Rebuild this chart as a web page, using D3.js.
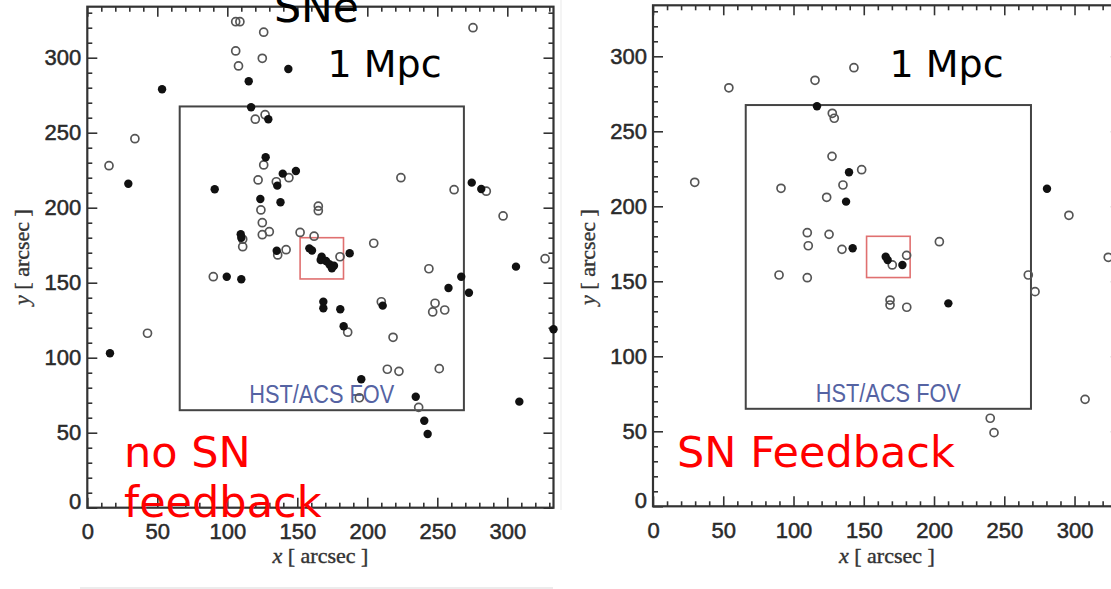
<!DOCTYPE html>
<html>
<head>
<meta charset="utf-8">
<script src="https://cdn.jsdelivr.net/npm/d3@7"></script>
<style>
  body { margin: 0; background: #fff; }
  svg { display: block; }
</style>
</head>
<body>
<div id="chart"></div>
<script>
// Galaxy positions [x, y] in arcsec
const noFbOpen = [
  [106, 324], [109, 324], [126, 317], [106, 304.5], [125, 299.6], [108, 294.5],
  [120, 259], [127, 262], [34, 246], [15.5, 228], [126, 228.5], [122, 218.5],
  [135, 217.3], [144, 220], [124, 198.5], [125, 190], [125, 182], [130, 184],
  [111, 179], [111, 174], [136, 168.5], [142, 172], [152, 183.5], [162, 181],
  [165, 201], [165, 198], [180.5, 167.3], [275.5, 320], [224, 220], [262, 212],
  [285, 211], [297, 194.5], [204.6, 176.3], [327, 166], [90, 154], [43, 116.3],
  [244, 159.3], [186, 117], [210, 137.3], [218.4, 113.6], [248.4, 136.3],
  [246.7, 130.5], [255.3, 131.8], [214.3, 92.3], [222.6, 90.9], [251.4, 92.7],
  [194.3, 73.3], [236.7, 66.9]
];
const noFbFilled = [
  [143.6, 292.5], [115.3, 284.3], [53.4, 279], [117, 267], [129.3, 259], [29.3, 216],
  [91, 212.3], [127.4, 233.6], [139.6, 222.7], [135.7, 214.7], [149, 224.5],
  [123.6, 205.8], [138, 203.6], [109.6, 182.3], [110, 180], [135.3, 171.3],
  [158.6, 172.9], [160.5, 171.5], [167.4, 167.3], [166.7, 165.1], [170.5, 164.5],
  [172.9, 162.3], [176.2, 161.3], [174.7, 159.6], [187.4, 169.6], [274.6, 216.7],
  [281.4, 212.5], [306.2, 160.7], [99.6, 154], [110, 152.3], [16.2, 103],
  [267.1, 154], [258, 146.5], [272.6, 143.3], [333, 119], [168.6, 137.3],
  [168.6, 133], [180.7, 132.3], [183.1, 121], [211, 134.7], [195.7, 85.6],
  [234.6, 74], [240.7, 58], [243.1, 49.1], [308.6, 70.7]
];
const fbOpen = [
  [143, 292.4], [115.3, 284], [54, 279], [127.6, 262], [129, 258.7], [127.4, 233.3],
  [148.5, 224.4], [29.7, 216], [91.1, 212], [135.2, 214.2], [123.6, 206],
  [109.8, 182.4], [110.5, 173.7], [125.3, 181.3], [134.5, 171.3], [296, 194],
  [203.8, 176.4], [180.5, 167.3], [324, 166], [89.7, 154.2], [109.8, 152.4],
  [170.3, 160.9], [168.7, 137.5], [168.7, 134.2], [180.6, 132.7], [267.1, 154.2],
  [271.9, 143.1], [307.5, 71.3], [240, 58.7], [242.7, 49.1]
];
const fbFilled = [
  [116.7, 266.7], [139.5, 222.7], [137.4, 203.1], [142.1, 172], [280.4, 211.7],
  [165.6, 166.4], [167, 164.2], [177.5, 160.9], [210.2, 135.3]
];

const majorTicks = [0, 50, 100, 150, 200, 250, 300];
const minorTicks = [10, 20, 30, 40, 60, 70, 80, 90, 110, 120, 130, 140, 160, 170, 180, 190,
  210, 220, 230, 240, 260, 270, 280, 290, 310, 320, 330];
const xDomain = [0, 333];
const yDomain = [0, 334];

// HST/ACS field of view and the central zoom box (arcsec)
const hstBoxX = [66, 269];
const hstBoxY = [65, 267.5];
const zoomBoxX = [152, 183];
const zoomBoxY = [152.5, 180];
const hstLabelPos = [167.5, 69.5];

const width = 1111, height = 589;

const svg = d3.select("#chart")
  .append("svg")
  .attr("width", width)
  .attr("height", height);

svg.append("rect").attr("width", width).attr("height", height).attr("fill", "#fff");

// faint edges of the pasted figure
svg.append("line").attr("x1", 80).attr("x2", 553).attr("y1", 588).attr("y2", 588)
  .attr("stroke", "#e6e6e6").attr("stroke-width", 1.5);
svg.append("line").attr("x1", 561).attr("x2", 561).attr("y1", 0).attr("y2", 510)
  .attr("stroke", "#f0f0f0").attr("stroke-width", 1.5);

const panels = [
  { xRange: [87.3, 553.5], yRange: [507.7, 6.7], open: noFbOpen, filled: noFbFilled, yTitleX: 29 },
  { xRange: [653, 1120.9], yRange: [506.3, 5.3], open: fbOpen, filled: fbFilled, yTitleX: 595 }
];

panels.forEach(p => {
  const x = d3.scaleLinear().domain(xDomain).range(p.xRange);
  const y = d3.scaleLinear().domain(yDomain).range(p.yRange);
  const g = svg.append("g");

  const styleAxis = sel => {
    sel.select(".domain").remove();
    sel.selectAll("line").attr("stroke", "#333").attr("stroke-width", 1.6);
    sel.selectAll("text")
      .attr("fill", "#2a2a2a")
      .attr("stroke", "#2a2a2a")
      .attr("stroke-width", 0.5)
      .style("font-family", "'Liberation Sans', Arial, sans-serif")
      .style("font-size", "22px");
  };

  // bottom
  g.append("g").attr("transform", `translate(0,${y(yDomain[0])})`)
    .call(d3.axisBottom(x).tickValues(majorTicks).tickSize(-10).tickPadding(16)).call(styleAxis);
  g.append("g").attr("transform", `translate(0,${y(yDomain[0])})`)
    .call(d3.axisBottom(x).tickValues(minorTicks).tickSize(-5).tickFormat("")).call(styleAxis);
  // top
  g.append("g").attr("transform", `translate(0,${y(yDomain[1])})`)
    .call(d3.axisTop(x).tickValues(majorTicks).tickSize(-10).tickFormat("")).call(styleAxis);
  g.append("g").attr("transform", `translate(0,${y(yDomain[1])})`)
    .call(d3.axisTop(x).tickValues(minorTicks).tickSize(-5).tickFormat("")).call(styleAxis);
  // left
  const yAxisG = g.append("g").attr("transform", `translate(${x(xDomain[0])},0)`)
    .call(d3.axisLeft(y).tickValues(majorTicks).tickSize(-10).tickPadding(6)).call(styleAxis);
  yAxisG.selectAll(".tick text").filter(d => d === 0).attr("dy", "0.05em");
  g.append("g").attr("transform", `translate(${x(xDomain[0])},0)`)
    .call(d3.axisLeft(y).tickValues(minorTicks).tickSize(-5).tickFormat("")).call(styleAxis);
  // right
  g.append("g").attr("transform", `translate(${x(xDomain[1])},0)`)
    .call(d3.axisRight(y).tickValues(majorTicks).tickSize(-10).tickFormat("")).call(styleAxis);
  g.append("g").attr("transform", `translate(${x(xDomain[1])},0)`)
    .call(d3.axisRight(y).tickValues(minorTicks).tickSize(-5).tickFormat("")).call(styleAxis);

  // frame
  g.append("rect")
    .attr("x", x(xDomain[0])).attr("y", y(yDomain[1]))
    .attr("width", x(xDomain[1]) - x(xDomain[0]))
    .attr("height", y(yDomain[0]) - y(yDomain[1]))
    .attr("fill", "none").attr("stroke", "#333").attr("stroke-width", 2.2);

  // HST/ACS FOV box
  g.append("rect")
    .attr("x", x(hstBoxX[0])).attr("y", y(hstBoxY[1]))
    .attr("width", x(hstBoxX[1]) - x(hstBoxX[0]))
    .attr("height", y(hstBoxY[0]) - y(hstBoxY[1]))
    .attr("fill", "none").attr("stroke", "#444").attr("stroke-width", 2);

  g.append("text")
    .attr("x", x(hstLabelPos[0])).attr("y", y(hstLabelPos[1]))
    .attr("text-anchor", "middle")
    .attr("textLength", 145).attr("lengthAdjust", "spacingAndGlyphs")
    .attr("fill", "#5563a3")
    .style("font-family", "'Liberation Sans', Arial, sans-serif")
    .style("font-size", "26px")
    .text("HST/ACS FOV");

  // zoom box
  g.append("rect")
    .attr("x", x(zoomBoxX[0])).attr("y", y(zoomBoxY[1]))
    .attr("width", x(zoomBoxX[1]) - x(zoomBoxX[0]))
    .attr("height", y(zoomBoxY[0]) - y(zoomBoxY[1]))
    .attr("fill", "none").attr("stroke", "#e07070").attr("stroke-width", 1.6);

  // galaxies
  g.selectAll(".gal-open")
    .data(p.open)
    .enter()
    .append("circle")
    .attr("class", "gal-open")
    .attr("cx", d => x(d[0]))
    .attr("cy", d => y(d[1]))
    .attr("r", 4)
    .attr("fill", "none")
    .attr("stroke", "#555")
    .attr("stroke-width", 1.7);

  g.selectAll(".gal-filled")
    .data(p.filled)
    .enter()
    .append("circle")
    .attr("class", "gal-filled")
    .attr("cx", d => x(d[0]))
    .attr("cy", d => y(d[1]))
    .attr("r", 4.2)
    .attr("fill", "#111");

  // axis titles
  const xt = g.append("text")
    .attr("x", (p.xRange[0] + p.xRange[1]) / 2).attr("y", 563)
    .attr("text-anchor", "middle")
    .attr("fill", "#333").attr("stroke", "#333").attr("stroke-width", 0.4)
    .style("font-family", "'Liberation Serif', 'Times New Roman', serif")
    .style("font-size", "22px");
  xt.append("tspan").style("font-style", "italic").text("x");
  xt.append("tspan").text(" [ arcsec ]");

  const yt = g.append("text")
    .attr("transform", `translate(${p.yTitleX},257) rotate(-90)`)
    .attr("text-anchor", "middle")
    .attr("fill", "#333").attr("stroke", "#333").attr("stroke-width", 0.4)
    .style("font-family", "'Liberation Serif', 'Times New Roman', serif")
    .style("font-size", "22px");
  yt.append("tspan").style("font-style", "italic").text("y");
  yt.append("tspan").text(" [ arcsec ]");
});

// overlaid annotations
const note = (x, y, txt, size, color) => svg.append("text")
  .attr("x", x).attr("y", y)
  .attr("fill", color)
  .style("font-family", "'DejaVu Sans', sans-serif")
  .style("font-size", size + "px")
  .text(txt);

note(274, 22, "SNe", 42.5, "#000");
note(327.5, 77.3, "1 Mpc", 38, "#000");
note(889.5, 77.3, "1 Mpc", 38, "#000");
note(124, 467, "no SN", 43, "#ff0000");
note(124, 517, "feedback", 43, "#ff0000");
note(677, 467, "SN Feedback", 43, "#ff0000");
</script>
</body>
</html>
